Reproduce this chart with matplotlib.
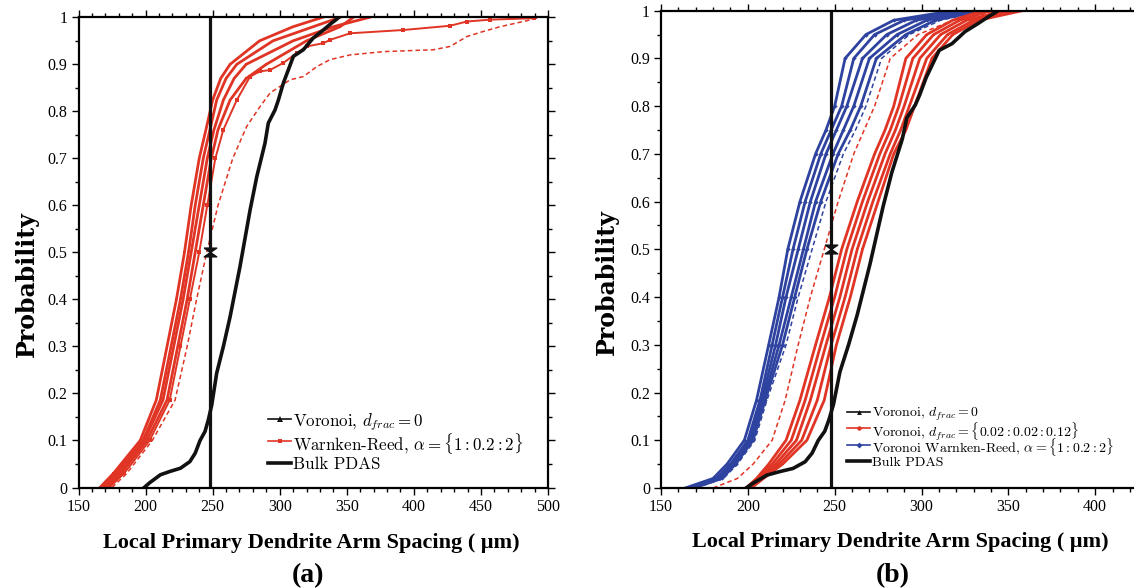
import matplotlib
matplotlib.use('Agg')
import matplotlib.pyplot as plt
from matplotlib.ticker import MultipleLocator
from matplotlib.lines import Line2D

plt.rcParams['font.family'] = ['Liberation Serif', 'DejaVu Serif']
plt.rcParams['mathtext.fontset'] = 'cm'

# ---------------- data ----------------
bulk_pdas = 248.0
bulk_prob = 0.5

# Voronoi d_frac = 0 (same in both panels)
vor0_x = [199, 203, 211, 218, 226, 233, 237, 240.6, 244.3, 246.8, 249.3, 253, 258, 263, 270.4,
          277.9, 282.9, 289, 291.5, 296.5, 299, 302.7, 310.2, 317.6, 325, 332.5, 338.8, 342.5, 344]
vor0_p = [0, 0.01, 0.027, 0.034, 0.041, 0.055, 0.073, 0.10, 0.119, 0.144, 0.175, 0.243, 0.30, 0.363, 0.47,
          0.59, 0.661, 0.732, 0.775, 0.803, 0.824, 0.86, 0.917, 0.931, 0.956, 0.973, 0.988, 0.996, 1.0]

# panel (a): Warnken-Reed alpha = 1:0.2:2
wr_p = [0, 0.03, 0.1, 0.186, 0.3, 0.4, 0.5, 0.6, 0.7, 0.761, 0.824, 0.87, 0.9, 0.95, 0.98, 1.0]
wr_a1 = [166, 176, 196, 208, 216, 223, 229, 234, 240, 245, 250, 256, 263, 285, 310, 332]
wr_a2 = [168, 178, 198, 211, 219, 226, 232, 237, 243, 248, 253, 260, 268, 295, 325, 345]
wr_a3 = [170, 180, 199, 213, 221, 228, 234, 240, 246, 251, 258, 266, 275, 310, 340, 367]
wr_a4 = [172, 182, 201, 216, 224, 231, 237, 243, 249, 254, 263, 275, 290, 320, 345, 355]
wr_a5_x = [173, 184, 203, 218, 226, 233, 240, 246, 252, 258, 268, 277.9, 285.3, 292.8, 302.7, 312.7,
           320.2, 332.6, 337.5, 352.5, 392.2, 427, 439.5, 456.9, 489.2, 490.4]
wr_a5_p = [0, 0.03, 0.1, 0.186, 0.3, 0.4, 0.5, 0.6, 0.7, 0.761, 0.824, 0.874, 0.885, 0.888, 0.903, 0.924,
           0.938, 0.945, 0.952, 0.966, 0.973, 0.982, 0.991, 0.995, 0.998, 1.0]
wr_a6_x = [175, 186, 205, 222, 231, 238, 245.6, 254, 265, 275.4, 285.3, 292.8, 307.7, 317.6, 327.6,
           337.5, 352.5, 377.3, 414.6, 427, 439.5, 451.9, 464.3, 489.2, 492]
wr_a6_p = [0, 0.03, 0.1, 0.186, 0.3, 0.4, 0.5, 0.6, 0.7, 0.768, 0.81, 0.839, 0.867, 0.874, 0.895,
           0.91, 0.92, 0.927, 0.931, 0.938, 0.959, 0.97, 0.98, 0.996, 1.0]

# panel (b)
b_p = [0, 0.02, 0.05, 0.1, 0.184, 0.3, 0.4, 0.5, 0.6, 0.7, 0.75, 0.8, 0.9, 0.95, 0.98, 1.0]
# Voronoi Warnken-Reed alpha = 1:0.2:2 (blue)
vwr_1 = [164, 180, 188, 198, 205, 212, 218, 223, 230, 239, 245, 250, 256, 268, 284, 318]
vwr_2 = [166, 182, 190, 200, 207, 214, 220, 226, 233, 242, 248, 254, 261, 273, 290, 322]
vwr_3 = [167, 183, 191, 201, 208, 216, 222, 229, 236, 245, 251, 257, 266, 280, 297, 326]
vwr_4 = [168, 184, 192, 202, 209, 218, 225, 232, 239, 249, 255, 261, 270, 286, 303, 330]
vwr_5 = [169, 185, 193, 203, 210, 220, 227, 234, 242, 252, 259, 265, 274, 291, 308, 335]
vwr_6 = [170, 186, 194, 204, 211, 222, 229, 237, 245, 255, 262, 268, 277, 293, 311, 336]
# Voronoi d_frac = 0.02:0.02:0.12 (red)
vd_1 = [199, 205, 212, 222, 230, 239, 247, 254, 263, 273, 279, 284, 291, 303, 318, 335]
vd_2 = [200, 206, 214, 225, 233, 242, 250, 257, 266, 276, 282, 287, 295, 307, 322, 340]
vd_3 = [200, 207, 216, 228, 236, 245, 253, 260, 269, 279, 285, 290, 299, 311, 326, 348]
vd_4 = [201, 208, 218, 231, 240, 248, 256, 263, 272, 282, 288, 293, 303, 315, 330, 352]
vd_5 = [202, 209, 220, 234, 244, 251, 259, 266, 275, 284, 291, 296, 306, 318, 333, 358]
vd_6 = [180, 194, 203, 214, 221.5, 229, 236, 244, 252, 261, 267, 273, 282, 298, 318, 345]

x_ticks_a = [150, 200, 250, 300, 350, 400, 450, 500]
x_ticks_b = [150, 200, 250, 300, 350, 400, 450]
x_labels_b = ['150', '200', '250', '300', '350', '400', '']
y_ticks = [0, 0.1, 0.2, 0.3, 0.4, 0.5, 0.6, 0.7, 0.8, 0.9, 1]
y_ticklabels = ['0', '0.1', '0.2', '0.3', '0.4', '0.5', '0.6', '0.7', '0.8', '0.9', '1']

leg_a = [r'Voronoi, $d_{frac}=0$', r'Warnken-Reed, $\alpha=\{1:0.2:2\}$', 'Bulk PDAS']
leg_b = [r'Voronoi, $d_{frac}=0$', r'Voronoi, $d_{frac}=\{0.02:0.02:0.12\}$',
         r'Voronoi Warnken-Reed, $\alpha=\{1:0.2:2\}$', 'Bulk PDAS']

RED = '#e03424'
BLUE = '#2e42a0'
BLACK = '#111111'

W, H = 1134, 588
fig = plt.figure(figsize=(W / 100, H / 100), dpi=100)


def ax_at(x0, x1, ytop, ybot):
    return fig.add_axes([x0 / W, 1 - ybot / H, (x1 - x0) / W, (ybot - ytop) / H])


ax1 = ax_at(78.5, 548, 17.3, 487.5)
ax2 = ax_at(661, 1182, 10.7, 488)

tickfont = 11.5
for ax, xt, xlab, xl in ((ax1, x_ticks_a, [str(t) for t in x_ticks_a], (150, 500)),
                         (ax2, x_ticks_b, x_labels_b, (150, 450))):
    ax.set_xlim(*xl)
    ax.set_ylim(0, 1)
    ax.set_xticks(xt)
    ax.set_xticklabels(xlab, fontsize=tickfont)
    ax.set_yticks(y_ticks)
    ax.set_yticklabels(y_ticklabels, fontsize=tickfont)
    ax.xaxis.set_minor_locator(MultipleLocator(10))
    ax.yaxis.set_minor_locator(MultipleLocator(0.05))
    ax.tick_params(which='both', direction='out', top=True, right=True, width=1.0)
    ax.tick_params(which='major', length=5, pad=3)
    ax.tick_params(which='minor', length=3)
    for s in ax.spines.values():
        s.set_linewidth(1.6)

red_kw = dict(color=RED, lw=2.0, marker='s', ms=2.1, mew=0)
blue_kw = dict(color=BLUE, lw=2.0, marker='D', ms=2.2, mew=0)
dash_kw = dict(lw=1.1, ls=(0, (3, 2)))
hourglass = [(-1, 0.7), (1, 0.7), (-1, -0.7), (1, -0.7), (-1, 0.7)]

# ----- panel (a) -----
for xs in (wr_a1, wr_a2, wr_a3, wr_a4):
    ax1.plot(xs, wr_p, **red_kw)
ax1.plot(wr_a5_x, wr_a5_p, color=RED, lw=1.4, marker='s', ms=3.2, mew=0)
ax1.plot(wr_a6_x, wr_a6_p, color=RED, **dash_kw)
ax1.plot(vor0_x, vor0_p, color=BLACK, lw=2.6)
ax1.axvline(bulk_pdas, color=BLACK, lw=2.3)
ax1.plot([bulk_pdas], [bulk_prob], marker=hourglass, color=BLACK, ms=9, ls='none')

# ----- panel (b) -----
for xs in (vwr_1, vwr_2, vwr_3, vwr_4, vwr_5):
    ax2.plot(xs, b_p, **blue_kw)
ax2.plot(vwr_6, b_p, color=BLUE, **dash_kw)
for xs in (vd_1, vd_2, vd_3, vd_4, vd_5):
    ax2.plot(xs, b_p, **red_kw)
ax2.plot(vd_6, b_p, color=RED, **dash_kw)
ax2.plot(vor0_x, vor0_p, color=BLACK, lw=2.6)
ax2.axvline(bulk_pdas, color=BLACK, lw=2.3)
ax2.plot([bulk_pdas], [bulk_prob], marker=hourglass, color=BLACK, ms=9, ls='none')


# ----- manual legends (pixel placement) -----
def legend_row(x0, x1, y, color, lw, marker, ms, text, fs, tx):
    fy = 1 - y / H
    fig.add_artist(Line2D([x0 / W, x1 / W], [fy, fy], color=color, lw=lw, transform=fig.transFigure))
    if marker:
        fig.add_artist(Line2D([(x0 + x1) / 2 / W], [fy], color=color, marker=marker, ms=ms, mew=0,
                              ls='none', transform=fig.transFigure))
    fig.text(tx / W, fy, text, fontsize=fs, family='cmr10', ha='left', va='center_baseline')


fa = 12.2
legend_row(268, 291, 419, BLACK, 1.2, '^', 4, leg_a[0], fa, 293)
legend_row(268, 291, 441, RED, 1.2, 's', 3.5, leg_a[1], fa, 293)
legend_row(268, 291, 463, BLACK, 2.6, None, 0, leg_a[2], fa, 293)

fb = 10.0
legend_row(847, 870, 411.5, BLACK, 1.2, '^', 3.5, leg_b[0], fb, 872)
legend_row(847, 870, 428, RED, 1.2, 'o', 3.2, leg_b[1], fb, 872)
legend_row(847, 870, 444.5, BLUE, 1.2, 'D', 3.0, leg_b[2], fb, 872)
legend_row(847, 870, 461, BLACK, 2.6, None, 0, leg_b[3], fb, 872)

# ----- labels -----
xlab = 'Local Primary Dendrite Arm Spacing ( \u03bcm)'
lab_kw = dict(fontsize=16, fontweight='bold', ha='center', va='center')
fig.text(311.6 / W, 1 - 543 / H, xlab, **lab_kw)
fig.text(900.7 / W, 1 - 542 / H, xlab, **lab_kw)
ylab_kw = dict(fontsize=17, fontweight='bold', ha='center', va='center', rotation=90,
               family='DejaVu Serif')
fig.text(27 / W, 1 - 284 / H, 'Probability', **ylab_kw)
fig.text(607 / W, 1 - 282 / H, 'Probability', **ylab_kw)
fig.text(308 / W, 1 - 576 / H, '(a)', fontsize=20, fontweight='bold', ha='center', va='center')
fig.text(893 / W, 1 - 576 / H, '(b)', fontsize=20, fontweight='bold', ha='center', va='center')

fig.savefig('out.png', dpi=100)
